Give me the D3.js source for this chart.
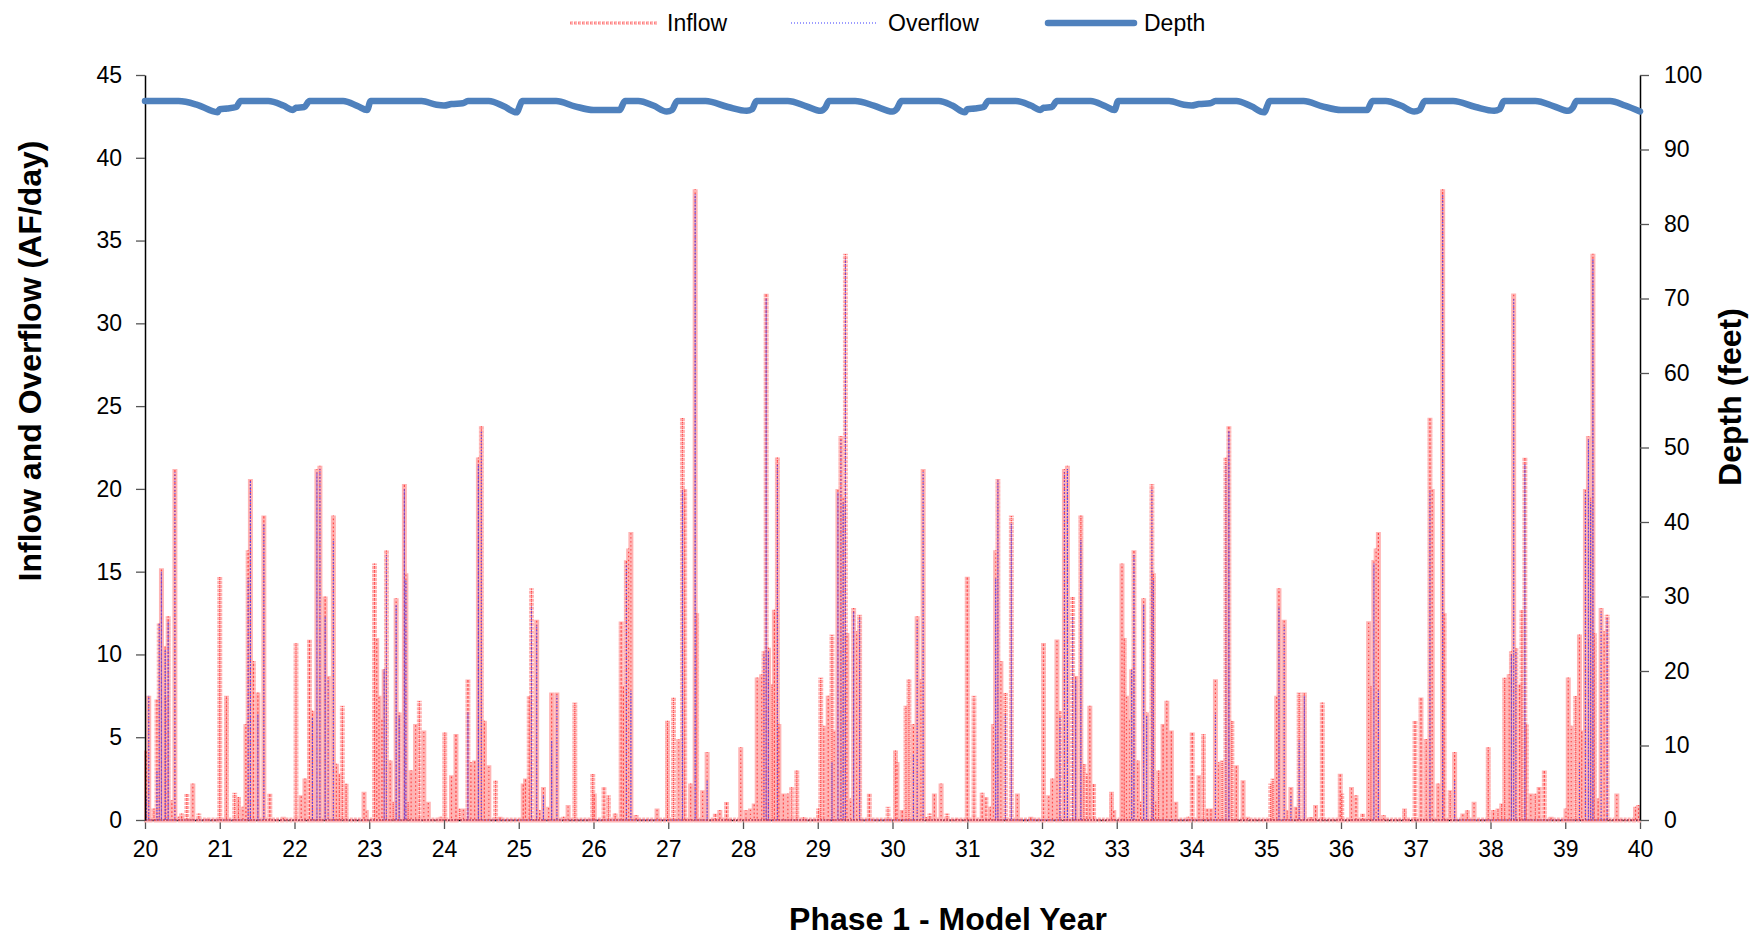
<!DOCTYPE html>
<html>
<head>
<meta charset="utf-8">
<script src="https://cdn.jsdelivr.net/npm/d3@7"></script>
<style>
  html, body { margin: 0; padding: 0; background: #fff; }
  svg { display: block; font-family: "Liberation Sans", Arial, sans-serif; }
</style>
</head>
<body>
<svg id="chart" width="1752" height="942"></svg>
<script>
// ---------------- DATA ----------------
const xTickValues = [20,21,22,23,24,25,26,27,28,29,30,31,32,33,34,35,36,37,38,39,40];
const leftTickValues = [0,5,10,15,20,25,30,35,40,45];
const rightTickValues = [0,10,20,30,40,50,60,70,80,90,100];
const seriesNames = ["Inflow", "Overflow", "Depth"];

// Inflow (AF/day): [model year, value] spikes
const inflow = [
  [20.02,4.2],[20.05,7.5],[20.12,0.7],[20.16,7.3],[20.19,11.9],[20.22,15.2],[20.27,10.5],[20.28,7.4],
  [20.31,12.3],[20.36,1.2],[20.40,21.2],[20.45,0.2],[20.49,0.4],[20.56,1.6],[20.64,2.2],[20.72,0.4],[20.84,0.1],
  [21.00,14.7],[21.09,7.5],[21.20,1.65],[21.25,1.4],[21.31,0.8],[21.35,5.8],[21.38,16.3],[21.41,20.6],
  [21.45,9.6],[21.51,7.7],[21.59,18.4],[21.67,1.6],[21.85,0.2],
  [22.02,10.7],[22.09,1.5],[22.14,2.5],[22.20,10.9],[22.24,6.6],[22.30,21.2],[22.34,21.4],[22.41,13.5],
  [22.45,8.7],[22.52,18.4],[22.56,3.4],[22.60,2.8],[22.64,6.9],[22.69,2.2],[22.93,1.7],[22.96,0.6],
  [23.07,15.5],[23.10,11.0],[23.13,7.5],[23.17,6.1],[23.20,9.1],[23.23,16.3],[23.28,3.6],[23.32,1.1],
  [23.36,13.4],[23.40,6.5],[23.47,20.3],[23.49,14.9],[23.52,1.1],[23.56,3.0],[23.62,5.8],[23.67,7.2],
  [23.73,5.4],[23.79,1.1],[23.96,0.2],
  [24.01,5.3],[24.10,2.7],[24.16,5.2],[24.21,0.7],[24.26,0.7],[24.32,8.5],[24.36,3.5],[24.41,3.6],
  [24.46,21.9],[24.50,23.8],[24.54,6.0],[24.60,3.3],[24.69,2.4],[24.75,0.2],
  [25.06,2.2],[25.09,2.5],[25.14,7.5],[25.17,14.0],[25.24,12.1],[25.28,0.6],[25.33,2.0],[25.40,0.8],
  [25.44,7.7],[25.51,7.7],[25.60,0.2],[25.66,0.9],[25.75,7.1],[25.99,2.8],
  [26.01,1.6],[26.14,2.0],[26.20,1.5],[26.29,0.4],[26.37,12.0],[26.40,8.1],[26.44,15.7],[26.47,16.4],[26.50,17.4],
  [26.57,0.3],[26.85,0.7],[26.99,6.0],
  [27.07,7.4],[27.14,4.9],[27.19,24.3],[27.22,20.0],[27.30,2.2],[27.36,38.1],[27.38,12.5],[27.46,1.8],
  [27.52,4.1],[27.63,0.4],[27.69,0.6],[27.78,1.1],[27.97,4.4],
  [28.04,0.6],[28.10,0.7],[28.15,1.0],[28.19,8.6],[28.25,8.8],[28.28,10.2],[28.31,31.8],[28.34,10.4],
  [28.39,8.2],[28.42,12.7],[28.46,21.9],[28.48,5.8],[28.54,1.6],[28.60,1.6],[28.65,2.0],[28.72,3.0],[28.81,0.2],
  [29.01,0.7],[29.04,8.6],[29.08,5.7],[29.14,7.5],[29.19,11.2],[29.22,5.4],[29.27,20.0],[29.31,23.2],
  [29.34,19.5],[29.37,34.2],[29.39,11.3],[29.44,1.3],[29.48,12.8],[29.52,11.4],[29.56,12.4],[29.69,1.6],[29.94,0.8],
  [30.04,4.2],[30.06,3.5],[30.13,0.6],[30.18,6.9],[30.22,8.5],[30.28,5.8],[30.33,12.3],[30.38,8.5],
  [30.41,21.2],[30.45,0.2],[30.50,0.4],[30.56,1.6],[30.65,2.2],[30.73,0.4],[30.86,0.1],
  [31.00,14.7],[31.09,7.5],[31.20,1.65],[31.25,1.4],[31.31,0.8],[31.35,5.8],[31.38,16.3],[31.41,20.6],
  [31.45,9.6],[31.51,7.7],[31.59,18.4],[31.67,1.6],[31.85,0.2],
  [32.02,10.7],[32.09,1.5],[32.14,2.5],[32.20,10.9],[32.24,6.6],[32.30,21.2],[32.34,21.4],[32.41,13.5],
  [32.45,8.7],[32.52,18.4],[32.56,3.4],[32.60,2.8],[32.64,6.9],[32.69,2.2],[32.93,1.7],[32.96,0.6],
  [33.07,15.5],[33.10,11.0],[33.13,7.5],[33.17,6.1],[33.20,9.1],[33.23,16.3],[33.28,3.6],[33.32,1.1],
  [33.36,13.4],[33.40,6.5],[33.47,20.3],[33.49,14.9],[33.52,1.1],[33.56,3.0],[33.62,5.8],[33.67,7.2],
  [33.73,5.4],[33.79,1.1],[33.96,0.2],
  [34.01,5.3],[34.10,2.7],[34.16,5.2],[34.21,0.7],[34.26,0.7],[34.32,8.5],[34.36,3.5],[34.41,3.6],
  [34.46,21.9],[34.50,23.8],[34.54,6.0],[34.60,3.3],[34.69,2.4],[34.75,0.2],
  [35.06,2.2],[35.09,2.5],[35.14,7.5],[35.17,14.0],[35.24,12.1],[35.28,0.6],[35.33,2.0],[35.40,0.8],
  [35.44,7.7],[35.51,7.7],[35.60,0.2],[35.66,0.9],[35.75,7.1],[35.99,2.8],
  [36.01,1.6],[36.14,2.0],[36.20,1.5],[36.29,0.4],[36.37,12.0],[36.40,8.1],[36.44,15.7],[36.47,16.4],[36.50,17.4],
  [36.57,0.3],[36.85,0.7],[36.99,6.0],
  [37.07,7.4],[37.14,4.9],[37.19,24.3],[37.22,20.0],[37.30,2.2],[37.36,38.1],[37.38,12.5],[37.46,1.8],
  [37.52,4.1],[37.63,0.4],[37.69,0.6],[37.78,1.1],[37.97,4.4],
  [38.04,0.6],[38.10,0.7],[38.15,1.0],[38.19,8.6],[38.25,8.8],[38.28,10.2],[38.31,31.8],[38.34,10.4],
  [38.39,8.2],[38.42,12.7],[38.46,21.9],[38.48,5.8],[38.54,1.6],[38.60,1.6],[38.65,2.0],[38.72,3.0],[38.81,0.2],
  [39.01,0.7],[39.04,8.6],[39.08,5.7],[39.14,7.5],[39.19,11.2],[39.22,5.4],[39.27,20.0],[39.31,23.2],
  [39.34,19.5],[39.37,34.2],[39.39,11.3],[39.44,1.3],[39.48,12.8],[39.52,11.4],[39.56,12.4],[39.69,1.6],[39.94,0.8],[39.98,0.9]
];

// Overflow (AF/day): [model year, value]
const overflow = [
  [20.02,1.4],[20.05,7.5],[20.16,3.0],[20.19,11.9],[20.22,15.0],[20.27,10.3],[20.31,12.0],[20.40,21.0],
  [21.38,14.6],[21.41,20.5],[21.51,6.4],[21.59,17.9],
  [22.24,6.2],[22.30,21.0],[22.34,21.2],[22.41,12.3],[22.45,8.5],[22.52,16.9],
  [23.20,9.1],[23.23,16.0],[23.36,13.0],[23.40,6.3],[23.47,20.0],[23.49,14.5],
  [24.32,6.5],[24.46,21.5],[24.50,23.5],
  [25.17,12.9],[25.24,11.8],[25.33,1.5],[25.44,4.8],[25.51,7.5],
  [26.44,15.5],[26.50,7.8],
  [27.19,19.9],[27.36,37.8],[27.52,2.4],
  [28.28,10.0],[28.31,31.5],[28.34,10.2],[28.46,21.5],
  [29.19,3.5],[29.27,19.8],[29.31,23.0],[29.34,19.2],[29.37,33.9],[29.48,12.6],[29.56,12.2],
  [30.28,4.0],[30.33,12.0],[30.41,21.0],
  [31.38,14.6],[31.41,20.5],[31.51,6.4],[31.59,17.9],
  [32.24,6.2],[32.30,21.0],[32.34,21.2],[32.41,12.3],[32.45,8.5],[32.52,16.9],
  [33.20,9.1],[33.23,16.0],[33.36,13.0],[33.40,6.3],[33.47,20.0],[33.49,14.5],
  [34.32,6.5],[34.46,21.5],[34.50,23.5],
  [35.17,12.9],[35.24,11.8],[35.33,1.5],[35.44,4.8],[35.51,7.5],
  [36.44,15.5],[36.50,7.8],
  [37.19,19.9],[37.36,37.8],[37.52,2.4],
  [38.28,10.0],[38.31,31.5],[38.34,10.2],[38.46,21.5],
  [39.19,3.5],[39.27,19.8],[39.31,23.0],[39.34,19.2],[39.37,33.9],[39.48,12.6],[39.56,12.2]
];

// Depth (feet): [model year, value]
const depth = [
  [20.0,96.5],[20.45,96.5],[20.7,96.0],[20.97,95.0],[21.0,95.4],[21.1,95.5],[21.22,95.7],[21.28,96.5],
  [21.65,96.5],[21.85,95.9],[21.98,95.3],[22.02,95.6],[22.13,95.7],[22.2,96.5],
  [22.65,96.5],[22.85,95.8],[22.97,95.3],[23.02,96.5],
  [23.7,96.5],[23.9,96.0],[24.0,95.9],[24.1,96.1],[24.25,96.2],[24.32,96.5],
  [24.6,96.5],[24.8,95.8],[24.97,95.0],[25.05,96.5],
  [25.5,96.5],[25.75,95.8],[26.0,95.3],[26.35,95.3],[26.42,96.5],
  [26.6,96.5],[26.8,95.9],[26.98,95.1],[27.05,95.3],[27.12,96.5],
  [27.5,96.5],[27.8,95.7],[28.05,95.2],[28.12,95.4],[28.18,96.5],
  [28.6,96.5],[28.85,95.8],[29.04,95.2],[29.1,95.6],[29.15,96.5],
  [29.5,96.5],[29.75,95.9],[30.0,95.1],
  [30.06,95.5],[30.12,96.5],[30.62,96.5],[30.8,95.9],[30.97,95.0],[31.0,95.4],[31.1,95.5],[31.22,95.7],[31.28,96.5],
  [31.65,96.5],[31.85,95.9],[31.98,95.3],[32.02,95.6],[32.13,95.7],[32.2,96.5],
  [32.65,96.5],[32.85,95.8],[32.97,95.3],[33.02,96.5],
  [33.7,96.5],[33.9,96.0],[34.0,95.9],[34.1,96.1],[34.25,96.2],[34.32,96.5],
  [34.6,96.5],[34.8,95.8],[34.97,95.0],[35.05,96.5],
  [35.5,96.5],[35.75,95.8],[36.0,95.3],[36.35,95.3],[36.42,96.5],
  [36.6,96.5],[36.8,95.9],[36.98,95.1],[37.05,95.3],[37.12,96.5],
  [37.5,96.5],[37.8,95.7],[38.05,95.2],[38.12,95.4],[38.18,96.5],
  [38.6,96.5],[38.85,95.8],[39.04,95.2],[39.1,95.6],[39.15,96.5],
  [39.6,96.5],[39.8,95.9],[40.0,95.1]
];

// ---------------- CHART ----------------
const svg = d3.select("#chart");
const x = d3.scaleLinear().domain([20, 40]).range([145, 1640]);
const yL = d3.scaleLinear().domain([0, 45]).range([820, 75]);
const yR = d3.scaleLinear().domain([0, 100]).range([820, 75]);

// spike path: baseline at zero, vertical to each value and back
function spikePoints(events) {
  const pts = [[x.domain()[0], 0]];
  events.forEach(([t, v]) => { pts.push([t, 0], [t, v], [t, 0]); });
  pts.push([x.domain()[1], 0]);
  return pts;
}
const lineL = d3.line().x(d => x(d[0])).y(d => yL(d[1]));

const plot = svg.append("g");

// Inflow
plot.append("path")
  .attr("d", lineL(spikePoints(inflow)))
  .attr("fill", "none").attr("stroke", "#ffb4b4").attr("stroke-width", 5)
  .attr("stroke-dasharray", "3,1");
plot.append("path")
  .attr("d", lineL(spikePoints(inflow)))
  .attr("fill", "none").attr("stroke", "#ff4a4a").attr("stroke-width", 1.2)
  .attr("stroke-dasharray", "1.2,2.8");

// Overflow
plot.append("path")
  .attr("d", lineL(spikePoints(overflow)))
  .attr("fill", "none").attr("stroke", "#3a3aff").attr("stroke-width", 1.1)
  .attr("stroke-opacity", 0.85)
  .attr("stroke-dasharray", "1,2");

// Axes
const fontSize = 23;
const axL = svg.append("g").attr("transform", `translate(${x(20)},0)`)
  .call(d3.axisLeft(yL).tickValues(leftTickValues).tickSize(9).tickSizeOuter(0).tickPadding(14));
const axR = svg.append("g").attr("transform", `translate(${x(40)},0)`)
  .call(d3.axisRight(yR).tickValues(rightTickValues).tickSize(9).tickSizeOuter(0).tickPadding(15));
const axB = svg.append("g").attr("transform", `translate(0,${yL(0)})`)
  .call(d3.axisBottom(x).tickValues(xTickValues).tickFormat(d3.format("d")).tickSize(9).tickSizeOuter(0).tickPadding(12));
[axL, axR, axB].forEach(a => {
  a.selectAll("text").attr("font-size", fontSize).attr("fill", "#000")
    .attr("font-family", "'Liberation Sans', Arial, sans-serif");
  a.selectAll(".tick line").attr("stroke", "#555").attr("stroke-width", 1.3);
  a.select(".domain").attr("stroke", "#000").attr("stroke-width", 1.5);
});

// zero-line of series drawn over axis
plot.append("path")
  .attr("d", lineL([[20, 0], [40, 0]]))
  .attr("stroke", "#c03030").attr("stroke-width", 1.2).attr("stroke-dasharray", "2,1");
plot.raise();
axL.raise(); axR.raise();

// Depth
svg.append("path")
  .datum(depth)
  .attr("d", d3.line().x(d => x(d[0])).y(d => yR(d[1])).curve(d3.curveMonotoneX))
  .attr("fill", "none").attr("stroke", "#4f81bd").attr("stroke-width", 6.5)
  .attr("stroke-linejoin", "round").attr("stroke-linecap", "round");

// Titles
svg.append("text").attr("x", 948).attr("y", 930).attr("text-anchor", "middle")
  .attr("font-size", 32).attr("font-weight", "bold").text("Phase 1 - Model Year");
svg.append("text").attr("transform", "translate(41,361) rotate(-90)").attr("text-anchor", "middle")
  .attr("font-size", 32).attr("font-weight", "bold").text("Inflow and Overflow (AF/day)");
svg.append("text").attr("transform", "translate(1741,397) rotate(-90)").attr("text-anchor", "middle")
  .attr("font-size", 32).attr("font-weight", "bold").text("Depth (feet)");

// Legend
const legendItems = [
  {name: seriesNames[0], x1: 570, x2: 657, tx: 667},
  {name: seriesNames[1], x1: 791, x2: 877, tx: 888},
  {name: seriesNames[2], x1: 1048, x2: 1134, tx: 1144}
];
const lg = svg.append("g");
const ly = 23;
lg.append("line").attr("x1", legendItems[0].x1).attr("x2", legendItems[0].x2).attr("y1", ly).attr("y2", ly)
  .attr("stroke", "#ffb4b4").attr("stroke-width", 3.5).attr("stroke-dasharray", "3,1");
lg.append("line").attr("x1", legendItems[0].x1).attr("x2", legendItems[0].x2).attr("y1", ly).attr("y2", ly)
  .attr("stroke", "#ff4a4a").attr("stroke-width", 1.2).attr("stroke-dasharray", "1.2,2.8");
lg.append("line").attr("x1", legendItems[1].x1).attr("x2", legendItems[1].x2).attr("y1", ly).attr("y2", ly)
  .attr("stroke", "#3a3aff").attr("stroke-width", 1.2).attr("stroke-dasharray", "1,2");
lg.append("line").attr("x1", legendItems[2].x1).attr("x2", legendItems[2].x2).attr("y1", ly).attr("y2", ly)
  .attr("stroke", "#4f81bd").attr("stroke-width", 6.5).attr("stroke-linecap", "round");
legendItems.forEach(it => {
  lg.append("text").attr("x", it.tx).attr("y", ly + 8).attr("font-size", fontSize).text(it.name);
});
</script>
</body>
</html>
